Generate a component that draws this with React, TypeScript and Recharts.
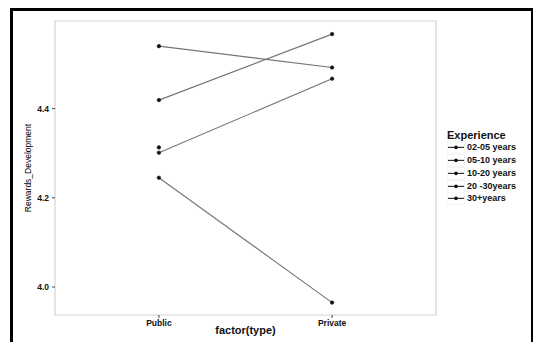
import { LineChart, Line, XAxis, YAxis, ReferenceArea } from "recharts";

const categories = ["Public", "Private"];
const seriesNames = ["02-05 years", "05-10 years", "10-20 years", "20 -30years", "30+years"];
const years0205 = [4.54, 4.492];
const years0510 = [4.419, 4.567];
const years1020 = [4.301, 4.467];
const years2030 = [4.245, 3.965];
const years30plus: (number | null)[] = [4.313, null];
const yTicks = [4.0, 4.2, 4.4];
const yDomain = [3.9372, 4.5964];
const xDomain = [0.4, 2.6];

const seriesValues = [years0205, years0510, years1020, years2030, years30plus];

const data = categories.map((c, i) => {
  const row: Record<string, number | string | null> = { x: i + 1, type: c };
  seriesNames.forEach((name, s) => {
    row[name] = seriesValues[s][i];
  });
  return row;
});

const font = "'Liberation Sans', Arial, sans-serif";
const lineColor = "#747474";

export default function App() {
  return (
    <div
      style={{
        position: "absolute",
        left: 0,
        top: 0,
        width: 534,
        height: 342,
        overflow: "hidden",
        background: "#fff",
        fontFamily: font,
      }}
    >
      <div
        style={{
          position: "absolute",
          left: 10,
          top: 8,
          width: 518,
          height: 340,
          borderLeft: "3px solid #000",
          borderTop: "3px solid #000",
          borderRight: "2px solid #000",
        }}
      />
      <div style={{ position: "absolute", left: 0, top: 0 }}>
        <LineChart
          width={534}
          height={342}
          data={data}
          margin={{ top: 21, right: 98, bottom: 0, left: 0 }}
        >
          <ReferenceArea
            x1={xDomain[0]}
            x2={xDomain[1]}
            y1={yDomain[0]}
            y2={yDomain[1]}
            fill="none"
            stroke="#d4d4d4"
            strokeWidth={1.2}
          />
          <XAxis
            dataKey="x"
            type="number"
            domain={xDomain}
            ticks={[1, 2]}
            tickFormatter={(v) => categories[v - 1]}
            height={27}
            axisLine={false}
            tickSize={3}
            tickMargin={2}
            tickLine={{ stroke: "#444" }}
            tick={{ fill: "#111", fontSize: 8.5, fontWeight: "bold", fontFamily: font }}
            label={{
              value: "factor(type)",
              position: "insideBottom",
              offset: 8,
              fill: "#111",
              fontSize: 11,
              fontWeight: "bold",
              fontFamily: font,
            }}
          />
          <YAxis
            type="number"
            domain={yDomain}
            ticks={yTicks}
            width={55}
            allowDataOverflow
            axisLine={false}
            tickSize={3}
            tickMargin={3}
            tickLine={{ stroke: "#444" }}
            tickFormatter={(v) => Number(v).toFixed(1)}
            tick={{ fill: "#111", fontSize: 8.5, fontWeight: "bold", fontFamily: font }}
            label={{
              value: "Rewards_Development",
              angle: -90,
              position: "center",
              fill: "#000",
              fontSize: 8.5,
              fontFamily: font,
            }}
          />
          {seriesNames.map((name) => (
            <Line
              key={name}
              dataKey={name}
              type="linear"
              stroke={lineColor}
              strokeWidth={1.1}
              dot={{ r: 1.8, fill: "#111", stroke: "#111", strokeWidth: 0.5 }}
              activeDot={false}
              isAnimationActive={false}
            />
          ))}
        </LineChart>
      </div>
      <div style={{ position: "absolute", left: 447, top: 129, color: "#111" }}>
        <div style={{ fontSize: 11, fontWeight: "bold", lineHeight: "12px", height: 12 }}>
          Experience
        </div>
        {seriesNames.map((name) => (
          <div
            key={name}
            style={{ display: "flex", alignItems: "center", height: 12.85 }}
          >
            <svg width={18} height={12.85} style={{ display: "block" }}>
              <rect x={0.5} y={0.5} width={17} height={11.85} fill="none" stroke="#efefef" strokeWidth={0.6} />
              <line x1={1} x2={17} y1={6.4} y2={6.4} stroke="#333" strokeWidth={1.2} />
              <circle cx={9} cy={6.4} r={1.8} fill="#111" />
            </svg>
            <span style={{ marginLeft: 2, fontSize: 9, fontWeight: "bold", lineHeight: "12.85px" }}>
              {name}
            </span>
          </div>
        ))}
      </div>
    </div>
  );
}
